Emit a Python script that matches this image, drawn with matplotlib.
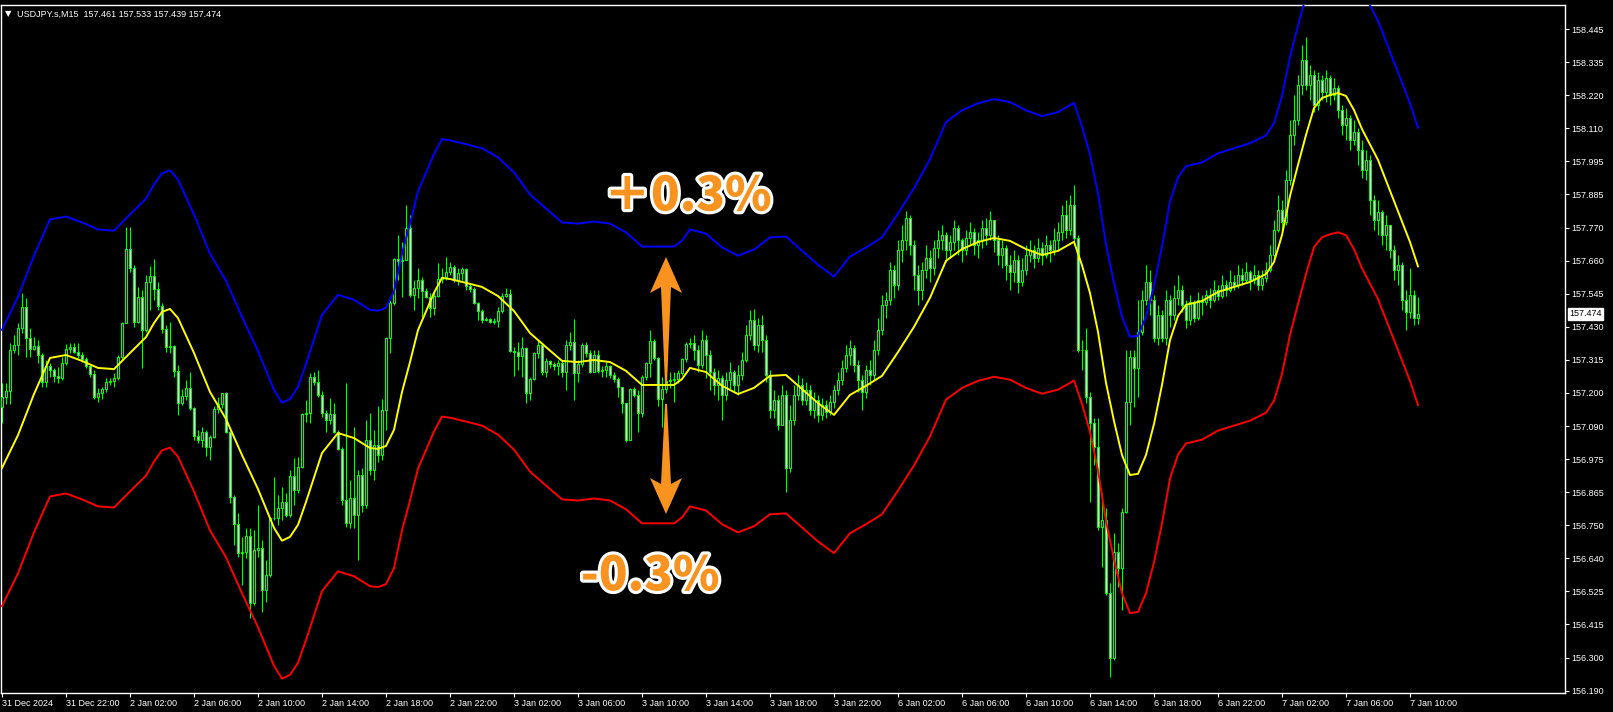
import numpy as np
import matplotlib
matplotlib.use("Agg")
import matplotlib.pyplot as plt
import matplotlib.transforms as mtrans
from matplotlib.patches import Polygon
from matplotlib import patheffects as pe

plt.rcParams["font.family"] = ["Liberation Sans", "DejaVu Sans"]

# USDJPY.s M15 candles (open of a bar = previous close)
first_open = 157.157
closes = [
    157.191, 157.212, 157.351, 157.368, 157.426, 157.498, 157.392, 157.354, 157.365, 157.334,
    157.242, 157.297, 157.283, 157.263, 157.256, 157.307, 157.354, 157.361, 157.344, 157.334,
    157.320, 157.297, 157.269, 157.191, 157.205, 157.218, 157.242, 157.246, 157.256, 157.327,
    157.443, 157.695, 157.631, 157.446, 157.532, 157.419, 157.583, 157.603, 157.559, 157.501,
    157.422, 157.361, 157.365, 157.280, 157.170, 157.194, 157.222, 157.154, 157.058, 157.044,
    157.072, 157.020, 157.055, 157.150, 157.167, 157.205, 157.072, 156.850, 156.758, 156.660,
    156.663, 156.718, 156.489, 156.670, 156.677, 156.533, 156.584, 156.779, 156.779, 156.813,
    156.833, 156.789, 156.922, 156.874, 156.952, 157.133, 157.137, 157.259, 157.242, 157.198,
    157.137, 157.113, 157.133, 157.072, 157.014, 156.840, 156.762, 156.847, 156.789, 156.925,
    156.823, 157.044, 156.942, 157.027, 156.993, 157.147, 157.392, 157.512, 157.661, 157.655,
    157.658, 157.767, 157.539, 157.563, 157.590, 157.552, 157.532, 157.495, 157.535, 157.593,
    157.600, 157.617, 157.634, 157.590, 157.614, 157.627, 157.569, 157.559, 157.512, 157.484,
    157.453, 157.457, 157.446, 157.450, 157.484, 157.535, 157.542, 157.348, 157.344, 157.331,
    157.358, 157.205, 157.252, 157.341, 157.368, 157.276, 157.314, 157.303, 157.297, 157.307,
    157.276, 157.368, 157.378, 157.273, 157.303, 157.368, 157.341, 157.276, 157.334, 157.280,
    157.283, 157.297, 157.266, 157.252, 157.225, 157.170, 157.044, 157.218, 157.198, 157.137,
    157.259, 157.307, 157.382, 157.324, 157.184, 157.218, 157.246, 157.249, 157.252, 157.273,
    157.320, 157.372, 157.375, 157.351, 157.300, 157.385, 157.334, 157.276, 157.232, 157.256,
    157.198, 157.249, 157.276, 157.232, 157.266, 157.317, 157.402, 157.453, 157.368, 157.436,
    157.385, 157.266, 157.147, 157.181, 157.096, 157.198, 156.949, 157.113, 157.198, 157.232,
    157.181, 157.215, 157.147, 157.181, 157.130, 157.164, 157.140, 157.174, 157.215, 157.249,
    157.290, 157.334, 157.358, 157.300, 157.249, 157.208, 157.283, 157.266, 157.351, 157.419,
    157.505, 157.522, 157.624, 157.573, 157.692, 157.726, 157.801, 157.709, 157.607, 157.556,
    157.624, 157.665, 157.631, 157.699, 157.726, 157.743, 157.692, 157.719, 157.767, 157.726,
    157.692, 157.733, 157.753, 157.709, 157.726, 157.767, 157.743, 157.794, 157.726, 157.675,
    157.699, 157.641, 157.617, 157.658, 157.583, 157.624, 157.675, 157.692, 157.665, 157.699,
    157.675, 157.709, 157.692, 157.726, 157.753, 157.811, 157.760, 157.845, 157.733, 157.351,
    157.351, 157.191, 157.102, 157.020, 156.748, 156.772, 156.523, 156.302, 156.663, 156.608,
    156.799, 157.174, 157.327, 157.290, 157.412, 157.522, 157.583, 157.522, 157.392, 157.471,
    157.392, 157.522, 157.471, 157.529, 157.556, 157.505, 157.453, 157.515, 157.460, 157.522,
    157.515, 157.539, 157.522, 157.556, 157.535, 157.573, 157.556, 157.583, 157.573, 157.607,
    157.590, 157.617, 157.590, 157.607, 157.573, 157.597, 157.624, 157.675, 157.760, 157.828,
    157.787, 157.931, 158.084, 158.135, 158.254, 158.340, 158.254, 158.288, 158.186, 158.271,
    158.230, 158.278, 158.220, 158.244, 158.169, 158.118, 158.142, 158.067, 158.094, 158.033,
    157.965, 157.999, 157.862, 157.794, 157.821, 157.743, 157.777, 157.692, 157.624, 157.641,
    157.522, 157.481, 157.539, 157.461, 157.474,
]
highs = [
    157.239, 157.239, 157.375, 157.402, 157.443, 157.546, 157.529, 157.426, 157.395, 157.385,
    157.341, 157.317, 157.307, 157.290, 157.293, 157.327, 157.371, 157.375, 157.375, 157.375,
    157.344, 157.327, 157.300, 157.283, 157.222, 157.225, 157.256, 157.256, 157.273, 157.334,
    157.446, 157.770, 157.770, 157.641, 157.566, 157.556, 157.607, 157.638, 157.661, 157.583,
    157.512, 157.436, 157.446, 157.368, 157.300, 157.218, 157.249, 157.276, 157.157, 157.079,
    157.089, 157.079, 157.061, 157.160, 157.191, 157.205, 157.208, 157.079, 156.857, 156.796,
    156.714, 156.745, 156.745, 156.738, 156.823, 156.704, 156.636, 156.782, 156.918, 156.857,
    156.884, 156.864, 156.942, 156.983, 156.986, 157.137, 157.181, 157.273, 157.276, 157.283,
    157.212, 157.147, 157.188, 157.170, 157.079, 157.020, 157.239, 156.908, 157.089, 156.942,
    156.949, 157.113, 157.137, 157.079, 157.160, 157.184, 157.395, 157.522, 157.665, 157.743,
    157.719, 157.845, 157.811, 157.590, 157.631, 157.600, 157.563, 157.546, 157.549, 157.648,
    157.631, 157.668, 157.651, 157.641, 157.631, 157.634, 157.631, 157.580, 157.566, 157.515,
    157.490, 157.464, 157.460, 157.460, 157.498, 157.546, 157.563, 157.559, 157.361, 157.378,
    157.395, 157.361, 157.259, 157.344, 157.385, 157.375, 157.324, 157.317, 157.310, 157.317,
    157.317, 157.385, 157.412, 157.457, 157.317, 157.375, 157.378, 157.351, 157.351, 157.351,
    157.297, 157.310, 157.300, 157.276, 157.259, 157.225, 157.170, 157.222, 157.225, 157.215,
    157.266, 157.310, 157.419, 157.389, 157.327, 157.259, 157.273, 157.276, 157.276, 157.283,
    157.324, 157.378, 157.392, 157.402, 157.368, 157.419, 157.402, 157.351, 157.290, 157.283,
    157.266, 157.276, 157.310, 157.283, 157.300, 157.344, 157.436, 157.488, 157.491, 157.460,
    157.471, 157.402, 157.283, 157.215, 157.198, 157.232, 157.215, 157.164, 157.232, 157.266,
    157.256, 157.242, 157.232, 157.208, 157.198, 157.188, 157.181, 157.198, 157.232, 157.276,
    157.317, 157.368, 157.385, 157.368, 157.317, 157.266, 157.300, 157.317, 157.385, 157.460,
    157.539, 157.549, 157.651, 157.641, 157.726, 157.777, 157.825, 157.811, 157.726, 157.641,
    157.651, 157.709, 157.692, 157.726, 157.760, 157.777, 157.753, 157.743, 157.794, 157.777,
    157.733, 157.760, 157.787, 157.767, 157.753, 157.794, 157.801, 157.825, 157.794, 157.743,
    157.726, 157.709, 157.675, 157.692, 157.675, 157.665, 157.709, 157.726, 157.709, 157.733,
    157.719, 157.743, 157.726, 157.767, 157.787, 157.845, 157.862, 157.879, 157.913, 157.743,
    157.385, 157.426, 157.208, 157.120, 157.120, 156.864, 156.813, 156.557, 156.728, 156.694,
    156.813, 157.351, 157.351, 157.351, 157.522, 157.556, 157.641, 157.624, 157.539, 157.505,
    157.488, 157.556, 157.539, 157.573, 157.607, 157.573, 157.522, 157.539, 157.522, 157.549,
    157.539, 157.556, 157.563, 157.590, 157.573, 157.607, 157.590, 157.624, 157.607, 157.641,
    157.631, 157.651, 157.624, 157.641, 157.624, 157.624, 157.651, 157.709, 157.794, 157.879,
    157.862, 157.965, 158.135, 158.220, 158.288, 158.391, 158.418, 158.323, 158.305, 158.299,
    158.288, 158.305, 158.290, 158.278, 158.254, 158.186, 158.176, 158.152, 158.135, 158.108,
    158.067, 158.033, 158.016, 157.879, 157.862, 157.828, 157.811, 157.777, 157.709, 157.675,
    157.651, 157.556, 157.631, 157.556, 157.533,
]
lows = [
    157.103, 157.167, 157.167, 157.341, 157.334, 157.409, 157.327, 157.327, 157.351, 157.307,
    157.225, 157.225, 157.259, 157.242, 157.239, 157.249, 157.300, 157.341, 157.341, 157.324,
    157.310, 157.290, 157.259, 157.184, 157.174, 157.184, 157.208, 157.232, 157.225, 157.249,
    157.317, 157.443, 157.617, 157.429, 157.443, 157.290, 157.412, 157.488, 157.522, 157.488,
    157.409, 157.344, 157.341, 157.259, 157.130, 157.164, 157.181, 157.147, 157.044, 157.034,
    157.020, 156.990, 156.976, 157.051, 157.137, 157.154, 157.068, 156.830, 156.687, 156.646,
    156.550, 156.643, 156.438, 156.482, 156.646, 156.458, 156.492, 156.577, 156.772, 156.755,
    156.772, 156.782, 156.782, 156.823, 156.864, 156.949, 157.106, 157.103, 157.232, 157.191,
    157.123, 157.072, 157.100, 157.068, 157.010, 156.823, 156.748, 156.745, 156.745, 156.636,
    156.799, 156.813, 156.925, 156.908, 156.969, 156.976, 157.079, 157.341, 157.505, 157.590,
    157.532, 157.658, 157.532, 157.488, 157.529, 157.464, 157.529, 157.464, 157.471, 157.532,
    157.580, 157.590, 157.607, 157.583, 157.573, 157.590, 157.556, 157.549, 157.508, 157.453,
    157.443, 157.450, 157.443, 157.440, 157.429, 157.477, 157.532, 157.344, 157.263, 157.283,
    157.259, 157.170, 157.181, 157.249, 157.324, 157.266, 157.259, 157.290, 157.283, 157.266,
    157.259, 157.215, 157.351, 157.181, 157.242, 157.293, 157.327, 157.273, 157.276, 157.273,
    157.259, 157.259, 157.256, 157.242, 157.191, 157.137, 157.038, 157.044, 157.191, 157.072,
    157.123, 157.249, 157.259, 157.317, 157.160, 157.089, 157.205, 157.222, 157.174, 157.239,
    157.266, 157.310, 157.358, 157.317, 157.276, 157.290, 157.256, 157.215, 157.198, 157.181,
    157.113, 157.181, 157.215, 157.208, 157.198, 157.249, 157.310, 157.385, 157.351, 157.344,
    157.344, 157.242, 157.120, 157.120, 157.079, 157.096, 156.867, 156.935, 157.096, 157.181,
    157.164, 157.164, 157.130, 157.120, 157.106, 157.113, 157.120, 157.130, 157.154, 157.198,
    157.232, 157.276, 157.300, 157.276, 157.208, 157.147, 157.188, 157.232, 157.249, 157.334,
    157.402, 157.460, 157.505, 157.529, 157.556, 157.651, 157.692, 157.675, 157.556, 157.505,
    157.522, 157.597, 157.583, 157.607, 157.665, 157.692, 157.651, 157.665, 157.692, 157.675,
    157.651, 157.675, 157.709, 157.675, 157.665, 157.699, 157.709, 157.726, 157.685, 157.641,
    157.631, 157.590, 157.556, 157.583, 157.546, 157.569, 157.607, 157.651, 157.631, 157.651,
    157.641, 157.665, 157.651, 157.675, 157.692, 157.726, 157.733, 157.743, 157.709, 157.344,
    157.283, 157.170, 156.833, 156.959, 156.738, 156.612, 156.516, 156.237, 156.295, 156.543,
    156.465, 156.796, 157.096, 157.157, 157.191, 157.402, 157.505, 157.471, 157.378, 157.368,
    157.378, 157.368, 157.429, 157.453, 157.505, 157.481, 157.426, 157.436, 157.446, 157.453,
    157.471, 157.505, 157.495, 157.515, 157.522, 157.529, 157.535, 157.549, 157.556, 157.563,
    157.573, 157.583, 157.556, 157.576, 157.556, 157.556, 157.583, 157.617, 157.665, 157.753,
    157.760, 157.777, 157.913, 158.050, 158.118, 158.220, 158.237, 158.203, 158.162, 158.169,
    158.203, 158.196, 158.186, 158.203, 158.142, 158.084, 158.067, 158.033, 158.050, 157.982,
    157.937, 157.931, 157.811, 157.760, 157.743, 157.709, 157.692, 157.665, 157.590, 157.573,
    157.488, 157.419, 157.460, 157.436, 157.439,
]

# yellow moving average (bar index -> value)
ma_bars = [
    0, 4, 8, 12, 16, 20, 24, 28, 32, 36, 38, 40, 42, 44, 48, 52, 56, 60, 64, 68,
    70, 72, 74, 76, 80, 84, 88, 92, 94, 96, 98, 100, 102, 104, 108, 110, 112, 116, 120, 124,
    128, 132, 136, 140, 144, 148, 152, 156, 160, 164, 168, 170, 172, 176, 180, 184, 188, 192, 196, 200,
    204, 208, 212, 216, 220, 224, 228, 232, 236, 240, 244, 248, 252, 256, 260, 264, 268, 270, 272, 274,
    276, 278, 280, 282, 284, 286, 288, 290, 292, 294, 296, 300, 304, 308, 312, 316, 318, 320, 322, 324,
    326, 328, 330, 332, 334, 336, 338, 340, 344, 348, 352, 354,
]
ma_values = [
    156.949, 157.061, 157.201, 157.324, 157.334, 157.314, 157.290, 157.286, 157.341, 157.395,
    157.443, 157.481, 157.491, 157.460, 157.341, 157.208, 157.116, 156.993, 156.877, 156.745,
    156.701, 156.714, 156.755, 156.833, 157.000, 157.068, 157.051, 157.017, 157.014, 157.024,
    157.079, 157.208, 157.310, 157.419, 157.546, 157.597, 157.593, 157.580, 157.566, 157.535,
    157.484, 157.409, 157.361, 157.314, 157.310, 157.317, 157.310, 157.280, 157.232, 157.232,
    157.232, 157.252, 157.290, 157.276, 157.229, 157.201, 157.222, 157.263, 157.266, 157.218,
    157.170, 157.130, 157.198, 157.229, 157.263, 157.344, 157.430, 157.529, 157.655, 157.695,
    157.719, 157.733, 157.723, 157.695, 157.675, 157.689, 157.720, 157.640, 157.545, 157.413,
    157.239, 157.109, 156.993, 156.925, 156.929, 156.993, 157.099, 157.232, 157.385, 157.467,
    157.505, 157.518, 157.549, 157.566, 157.583, 157.610, 157.651, 157.743, 157.876, 157.982,
    158.084, 158.176, 158.210, 158.220, 158.227, 158.217, 158.169, 158.104, 157.999, 157.859,
    157.719, 157.636,
]
envelope_pct = 0.3

time_labels = [
    "31 Dec 2024", "31 Dec 22:00", "2 Jan 02:00", "2 Jan 06:00", "2 Jan 10:00", "2 Jan 14:00",
    "2 Jan 18:00", "2 Jan 22:00", "3 Jan 02:00", "3 Jan 06:00", "3 Jan 10:00", "3 Jan 14:00",
    "3 Jan 18:00", "3 Jan 22:00", "6 Jan 02:00", "6 Jan 06:00", "6 Jan 10:00", "6 Jan 14:00",
    "6 Jan 18:00", "6 Jan 22:00", "7 Jan 02:00", "7 Jan 06:00", "7 Jan 10:00",
]
price_labels = [
    "156.190", "156.300", "156.415", "156.525", "156.640", "156.750", "156.865", "156.975",
    "157.090", "157.200", "157.315", "157.430", "157.545", "157.660", "157.770", "157.885",
    "157.995", "158.110", "158.220", "158.335", "158.445",
]
last_price = 157.474

W, H = 1613, 712
GREEN = "#00ff00"
ORANGE = "#f7931e"

fig = plt.figure(figsize=(W / 100, H / 100), dpi=100, facecolor="black")
ax = fig.add_axes([1 / W, 19 / H, 1564 / W, 688 / H], facecolor="black")

closes = np.array(closes)
opens = np.r_[first_open, closes[:-1]]
x = np.arange(len(closes))
bull = closes >= opens

ax.vlines(x, lows, highs, colors=GREEN, lw=0.8, zorder=2)
ax.bar(x, np.abs(closes - opens), bottom=np.minimum(opens, closes), width=0.5,
       color=np.where(bull, "black", "white"), edgecolor=GREEN, linewidth=0.8, zorder=3)

ma = np.array(ma_values)
ax.plot(ma_bars, ma * (1 + envelope_pct / 100), color="#0000ff", lw=1.4, zorder=4)
ax.plot(ma_bars, ma * (1 - envelope_pct / 100), color="#ff0000", lw=1.4, zorder=4)
ax.plot(ma_bars, ma, color="#ffff00", lw=1.4, zorder=4)

ax.set_xlim(-0.25, 390.75)
ax.set_ylim(156.182, 158.527)
ax.yaxis.tick_right()
ax.set_yticks(np.linspace(156.190, 158.445, len(price_labels)), price_labels)
ax.set_xticks(np.arange(0, 16 * len(time_labels), 16), time_labels)
ax.tick_params(colors="white", labelsize=6.5, length=3, width=0.8, direction="out", pad=1.5)
for lab in ax.get_xticklabels():
    lab.set_horizontalalignment("left")
for s in ax.spines.values():
    s.set_color("white")
    s.set_linewidth(1)

# header
ax.text(0.0045, 0.987, "\u25bc", transform=ax.transAxes, color="white", fontsize=6,
        family=["DejaVu Sans"], ha="center", va="center")
ax.text(0.0102, 0.987, "USDJPY.s,M15  157.461 157.533 157.439 157.474", transform=ax.transAxes,
        color="white", fontsize=6.5, ha="left", va="center")

# current price box
trans = mtrans.blended_transform_factory(ax.transAxes, ax.transData)
ax.text(1.0027, last_price, f"{last_price:.3f}", transform=trans, color="black", fontsize=6.5,
        ha="left", va="center", clip_on=False,
        bbox=dict(boxstyle="square,pad=0.15", fc="white", ec="white"))

# annotations
stroke = [pe.withStroke(linewidth=4.5, foreground="white")]
ax.text(0.439, 0.722, "\uff0b0.3%", transform=ax.transAxes, ha="center", va="center",
        fontsize=34, fontweight="heavy", family=["Noto Sans CJK JP", "DejaVu Sans"],
        color=ORANGE, path_effects=stroke, zorder=10)
ax.text(0.415, 0.170, "-0.3%", transform=ax.transAxes, ha="center", va="center",
        fontsize=34, fontweight="heavy", family=["Noto Sans CJK JP", "DejaVu Sans"],
        color=ORANGE, path_effects=stroke, zorder=10)


def px_poly(pts):
    return [(px / W, 1 - py / H) for px, py in pts]


up_arrow = [(666, 257), (682, 293), (671, 287), (667, 384), (665, 384), (661, 287), (650, 293)]
down_arrow = [(666, 514), (650, 478), (661, 484), (665, 404), (667, 404), (671, 484), (682, 478)]
for pts in (up_arrow, down_arrow):
    fig.add_artist(Polygon(px_poly(pts), closed=True, transform=fig.transFigure,
                           facecolor=ORANGE, edgecolor="none", zorder=10))

fig.savefig("out.png", dpi=100, facecolor="black")
